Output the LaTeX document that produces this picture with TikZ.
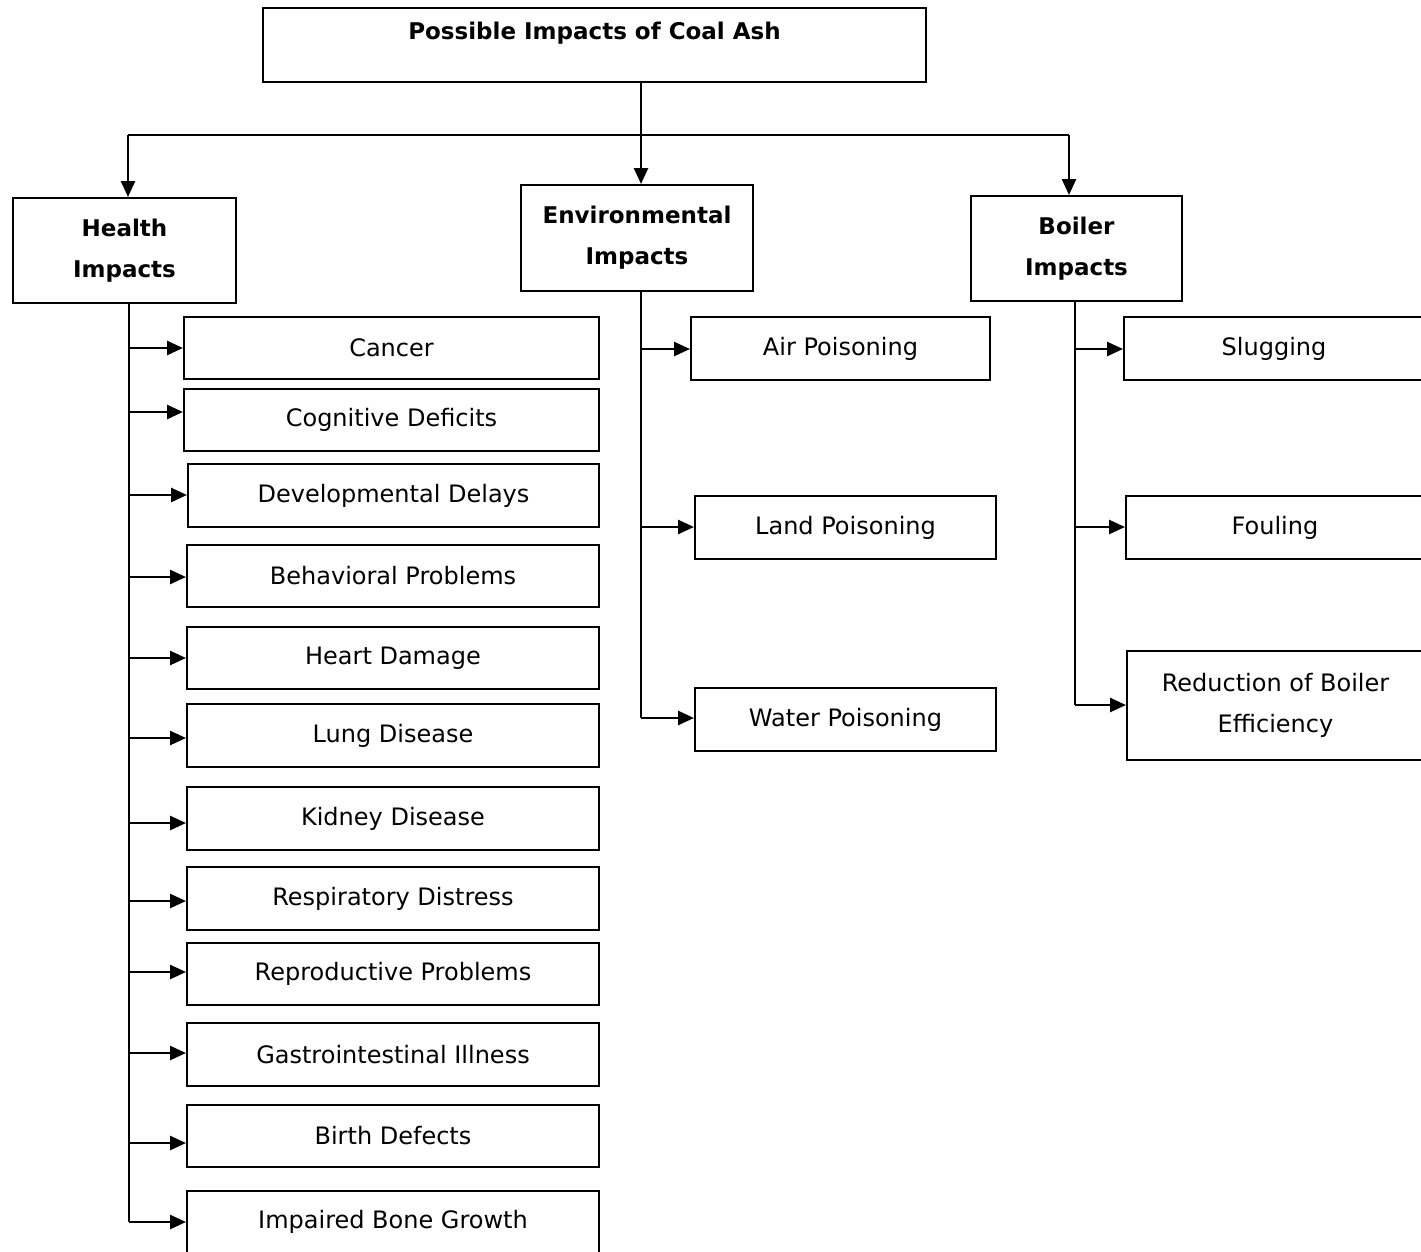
\documentclass[tikz,border=0pt]{standalone}
\usepackage{fontspec}
\setmainfont{DejaVu Sans}
\usetikzlibrary{arrows.meta}
\begin{document}
\begin{tikzpicture}[x=1pt,y=-1pt,
  box/.style={draw, line width=2pt, inner sep=0pt, align=center, font=\fontsize{24}{41}\selectfont},
  head/.style={box, font=\fontsize{23}{41}\selectfont\bfseries},
  arr/.style={line width=2.6pt, -{Triangle[length=16pt,width=14pt]}},
  trunk/.style={line width=2pt}]
\useasboundingbox (0,0) rectangle (1421,1251);
\clip (0,0) rectangle (1421,1251);

% top
\node[head, minimum width=663pt, minimum height=74pt, text height=17pt, text depth=29pt] (top) at (594.5,45) {Possible Impacts of Coal Ash};

% category heads
\node[head, minimum width=223pt, minimum height=105pt] (health) at (124.5,250.5) {Health\\Impacts};
\node[head, minimum width=232pt, minimum height=106pt] (env) at (637,238) {Environmental\\Impacts};
\node[head, minimum width=211pt, minimum height=105pt] (boiler) at (1076.5,248.5) {Boiler\\Impacts};

% top connectors
\coordinate (jl) at (128,135);
\coordinate (jm) at (641,135);
\coordinate (jr) at (1069,135);
\draw[arr] (top.south -| jm) -- (env.north -| jm);
\draw[trunk] (jl) -- (jr);
\draw[arr] (jl) -- (jl |- health.north);
\draw[arr] (jr) -- (jr |- boiler.north);

% health children
\node[box, minimum width=415pt, minimum height=62pt] (h1) at (391.5,348) {Cancer};
\node[box, minimum width=415pt, minimum height=62pt] (h2) at (391.5,420) {Cognitive Deficits};
\node[box, minimum width=411pt, minimum height=63pt] (h3) at (393.5,495.5) {Developmental Delays};
\node[box, minimum width=412pt, minimum height=62pt] (h4) at (393,576) {Behavioral Problems};
\node[box, minimum width=412pt, minimum height=62pt] (h5) at (393,658) {Heart Damage};
\node[box, minimum width=412pt, minimum height=63pt] (h6) at (393,735.5) {Lung Disease};
\node[box, minimum width=412pt, minimum height=63pt] (h7) at (393,818.5) {Kidney Disease};
\node[box, minimum width=412pt, minimum height=63pt] (h8) at (393,898.5) {Respiratory Distress};
\node[box, minimum width=412pt, minimum height=62pt] (h9) at (393,974) {Reproductive Problems};
\node[box, minimum width=412pt, minimum height=63pt] (h10) at (393,1054.5) {Gastrointestinal Illness};
\node[box, minimum width=412pt, minimum height=62pt] (h11) at (393,1136) {Birth Defects};
\node[box, minimum width=412pt, minimum height=62pt] (h12) at (393,1222) {Impaired Bone Growth};

\coordinate (ha1) at (129,348);
\coordinate (ha2) at (129,412);
\coordinate (ha3) at (129,495);
\coordinate (ha4) at (129,577);
\coordinate (ha5) at (129,658);
\coordinate (ha6) at (129,738);
\coordinate (ha7) at (129,823);
\coordinate (ha8) at (129,901);
\coordinate (ha9) at (129,972);
\coordinate (ha10) at (129,1053);
\coordinate (ha11) at (129,1143);
\coordinate (ha12) at (129,1222);
\draw[trunk] (health.south -| ha1) -- (ha12);
\foreach \i in {1,...,12} {
  \draw[arr] (ha\i) -- (h\i.west |- ha\i);
}

% environmental children
\node[box, minimum width=299pt, minimum height=63pt] (e1) at (840.5,348.5) {Air Poisoning};
\node[box, minimum width=301pt, minimum height=63pt] (e2) at (845.5,527.5) {Land Poisoning};
\node[box, minimum width=301pt, minimum height=63pt] (e3) at (845.5,719.5) {Water Poisoning};
\coordinate (ea1) at (641,349);
\coordinate (ea2) at (641,527);
\coordinate (ea3) at (641,718);
\draw[trunk] (env.south -| ea1) -- (ea3);
\foreach \i in {1,2,3} {
  \draw[arr] (ea\i) -- (e\i.west |- ea\i);
}

% boiler children
\node[box, minimum width=300pt, minimum height=63pt] (b1) at (1274,348.5) {Slugging};
\node[box, minimum width=298pt, minimum height=63pt] (b2) at (1275,527.5) {Fouling};
\node[box, minimum width=297pt, minimum height=109pt] (b3) at (1275.5,705.5) {Reduction of Boiler\\Efficiency};
\coordinate (ba1) at (1075,349);
\coordinate (ba2) at (1075,527);
\coordinate (ba3) at (1075,705);
\draw[trunk] (boiler.south -| ba1) -- (ba3);
\foreach \i in {1,2,3} {
  \draw[arr] (ba\i) -- (b\i.west |- ba\i);
}
\end{tikzpicture}
\end{document}
